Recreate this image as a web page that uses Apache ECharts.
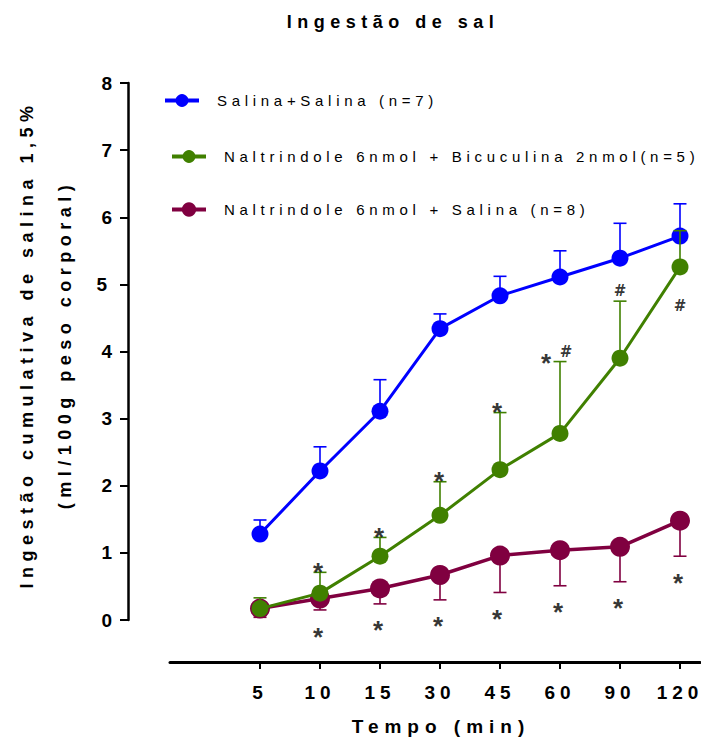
<!DOCTYPE html>
<html><head><meta charset="utf-8">
<script src="https://cdn.jsdelivr.net/npm/echarts@6/dist/echarts.min.js"></script>
<style>html,body{margin:0;padding:0;background:#fff}#c{width:701px;height:744px}</style>
</head><body><div id="c"></div>
<script>
// ---- data ----
const categories = ['5','10','15','30','45','60','90','120'];
const salinaMean  = [1.28,2.22,3.11,4.34,4.83,5.11,5.39,5.72];
const salinaUpper = [1.49,2.58,3.58,4.56,5.12,5.50,5.91,6.20];
const bicMean  = [0.17,0.40,0.95,1.56,2.24,2.78,3.90,5.26];
const bicUpper = [0.33,0.71,1.23,2.06,3.09,3.85,4.75,5.80];
const naltMean  = [0.17,0.32,0.47,0.67,0.96,1.04,1.09,1.48];
const naltLower = [0.04,0.15,0.24,0.30,0.41,0.51,0.57,0.95];
const bicStarIdx = [1,2,3,4,5];
const bicHashIdx = [5,6];
const bicHashBelowIdx = [7];
const naltStarIdx = [1,2,3,4,5,6,7];
const names = ['Salina+Salina (n=7)','Naltrindole 6nmol + Bicuculina 2nmol(n=5)','Naltrindole 6nmol + Salina (n=8)'];
const titleText = 'Ingestão de sal';
const xName = 'Tempo (min)';
const yNameLines = ['Ingestão cumulativa de salina 1,5%','(ml/100g peso corporal)'];

const BLUE='#0000ff', GREEN='#408000', PURPLE='#800040';
const FONT='Liberation Sans, Arial, sans-serif';
const HASHFONT='DejaVu Sans, sans-serif';

function pts(arr){ return arr.map((v,i)=>[i,v]); }
function errData(mean, end){ return mean.map((v,i)=>[i,v,end[i]]); }
function errSeries(mean,end,color,z){
  return {
    type:'custom', data: errData(mean,end), z:z, silent:true,
    renderItem:function(params,api){
      const i=api.value(0);
      const a=api.coord([i,api.value(1)]), b=api.coord([i,api.value(2)]);
      const st={stroke:color,lineWidth:1.6};
      return {type:'group',children:[
        {type:'line',shape:{x1:a[0],y1:a[1],x2:b[0],y2:b[1]},style:st},
        {type:'line',shape:{x1:b[0]-6.5,y1:b[1],x2:b[0]+6.5,y2:b[1]},style:st}
      ]};
    }
  };
}
function markSeries(idx, vals, text, pos, dist, size, offsets, font){
  return {
    type:'scatter', symbolSize:1, itemStyle:{color:'rgba(0,0,0,0)'}, silent:true, z:5,
    data: idx.map((i,k)=>({value:[i, vals[i]], label:{offset:(offsets&&offsets[k])||[0,0]}})),
    label:{show:true, position:pos, distance:dist, formatter:text, color:'#000',
      fontFamily:font||FONT, fontWeight:'bold', fontSize:size}
  };
}
function legendItem(name, left, top, ih){
  return {data:[name], left:left, top:top, padding:0, itemWidth:34, itemHeight:ih,
    lineStyle:{width:4},
    textStyle:{fontFamily:FONT, fontSize:15, color:'#000', padding:[0,0,0,13]}};
}

const chart = echarts.init(document.getElementById('c'), null, {renderer:'svg'});
const option = {
  animation:false,
  backgroundColor:'#fff',
  title:{text:titleText, left:388, top:8, textAlign:'center',
    textStyle:{fontFamily:FONT, fontWeight:'bold', fontSize:18, color:'#000'}},
  legend:[
    legendItem(names[0],163,93,16),
    legendItem(names[1],170,149,16),
    legendItem(names[2],170,202,18)
  ],
  grid:{left:170, right:1, top:83, bottom:124},
  xAxis:{type:'value', min:-1.5, max:22/3, offset:42,
    name:xName, nameLocation:'middle', nameGap:55,
    nameTextStyle:{fontFamily:FONT, fontWeight:'bold', fontSize:19, color:'#000', padding:[0,0,0,12]},
    axisLine:{show:true, onZero:false, lineStyle:{color:'#000', width:3}},
    axisTick:{show:true, customValues:[0,1,2,3,4,5,6,7], length:7, lineStyle:{color:'#000', width:2}},
    axisLabel:{customValues:[0,1,2,3,4,5,6,7], formatter:v=>categories[Math.round(v)], margin:21,
      fontFamily:FONT, fontWeight:'bold', fontSize:19, color:'#000'},
    splitLine:{show:false}},
  yAxis:{type:'value', min:0, max:8, interval:1, offset:42,
    name:yNameLines.join('\n'), nameLocation:'middle', nameRotate:90, nameGap:44,
    nameTextStyle:{fontFamily:FONT, fontWeight:'bold', fontSize:18, color:'#000', lineHeight:38, padding:[0,0,0,14]},
    axisLine:{show:true, onZero:false, lineStyle:{color:'#000', width:2.5}},
    axisTick:{show:true, length:8, lineStyle:{color:'#000', width:2}},
    axisLabel:{margin:16, fontFamily:FONT, fontWeight:'bold', fontSize:19, color:'#000'},
    splitLine:{show:false}},
  series:[
    errSeries(salinaMean, salinaUpper, BLUE, 1),
    {name:names[0], type:'line', data:pts(salinaMean), symbol:'circle', symbolSize:17, z:2,
      itemStyle:{color:BLUE}, lineStyle:{color:BLUE, width:3}},
    errSeries(naltMean, naltLower, PURPLE, 1),
    {name:names[2], type:'line', data:pts(naltMean), symbol:'circle', symbolSize:20, z:2,
      itemStyle:{color:PURPLE}, lineStyle:{color:PURPLE, width:3.5}},
    errSeries(bicMean, bicUpper, GREEN, 3),
    {name:names[1], type:'line', data:pts(bicMean), symbol:'circle', symbolSize:17, z:3,
      itemStyle:{color:GREEN}, lineStyle:{color:GREEN, width:3}},
    markSeries(bicStarIdx, bicUpper, '*', 'top', -13, 26, [[-2,0],[-1,0],[-1,0],[-3,0],[-14,2]]),
    markSeries(bicHashIdx, bicUpper, '#', 'top', 2, 15, [[6,0],[0,0]], HASHFONT),
    markSeries(bicHashBelowIdx, bicMean, '#', 'bottom', 31, 15, null, HASHFONT),
    markSeries(naltStarIdx, naltLower, '*', 'bottom', 13, 26, [[-2,1],[-2,0],[-2,0],[-3,0],[-2,0],[-2,0],[-2,0]])
  ]
};
chart.setOption(option);

function applySpacing(){
  document.querySelectorAll('#c svg text').forEach(t=>{
    const s=t.textContent;
    let ls=0;
    if (categories.includes(s)) ls=5;
    else if (s===titleText) ls=5.5;
    else if (names.includes(s)) ls=4.7;
    else if (s===xName) ls=6;
    else if (yNameLines.includes(s)) ls=5.5;
    if (ls && t.style.letterSpacing!==ls+'px') t.style.letterSpacing=ls+'px';
  });
}
applySpacing();
chart.on('finished', applySpacing);
</script></body></html>
